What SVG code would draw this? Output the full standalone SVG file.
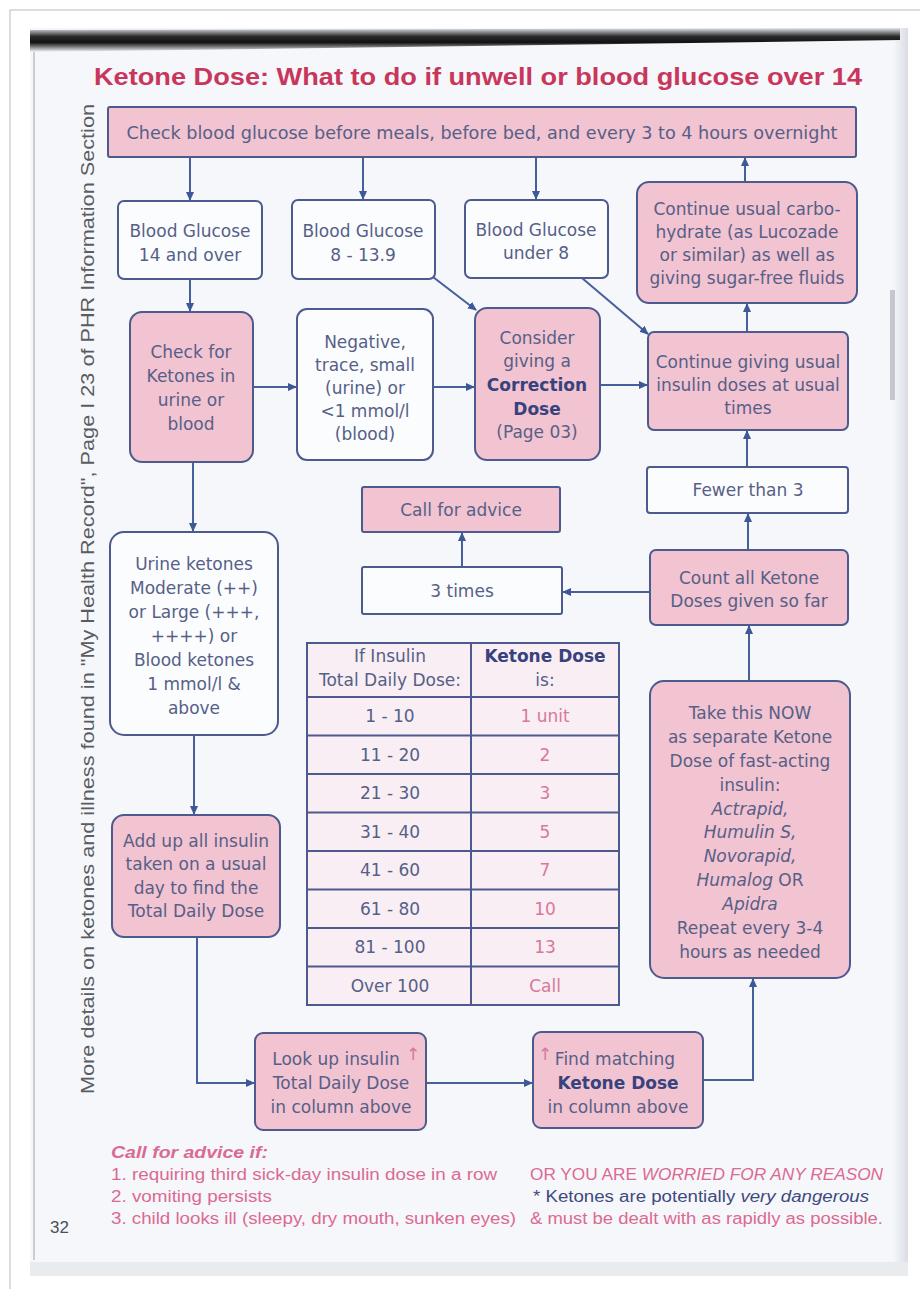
<svg xmlns="http://www.w3.org/2000/svg" width="920" height="1289" viewBox="0 0 920 1289">
<defs>
<style>
.pk{fill:#f2c3d1;stroke:#4c5a8e;stroke-width:2}
.wt{fill:#fbfcfe;stroke:#4c5a8e;stroke-width:2}
.t{font-family:"DejaVu Sans",Verdana,sans-serif;font-size:17px;fill:#566087;text-anchor:middle}
.b{font-weight:bold;fill:#38427c}
.i{font-style:italic}
.cn{stroke:#45609a;stroke-width:2;fill:none}
.tl{stroke:#4c5a8e;stroke-width:2}
.rd{fill:#d8789b}
.ft{font-family:"Liberation Sans",Arial,sans-serif;font-size:16px;fill:#db6a92}
</style>
<marker id="ah" markerUnits="userSpaceOnUse" markerWidth="9" markerHeight="8" refX="8" refY="4" orient="auto">
<path d="M0,0 L9,4 L0,8 z" fill="#3d5897"/>
</marker>
<linearGradient id="shadow" x1="0" y1="0" x2="0" y2="1">
<stop offset="0" stop-color="#e4e9ef"/>
<stop offset="0.35" stop-color="#2a2a2a"/>
<stop offset="0.6" stop-color="#111"/>
<stop offset="1" stop-color="#f5f7fa"/>
</linearGradient>
<linearGradient id="redge" x1="0" y1="0" x2="1" y2="0">
<stop offset="0" stop-color="#f5f7fa"/>
<stop offset="1" stop-color="#d9dde2"/>
</linearGradient>
</defs>

<!-- page / photo background -->
<rect x="0" y="0" width="920" height="1289" fill="#ffffff"/>
<path d="M10,1289 V10 H920" fill="none" stroke="#cfd2d6" stroke-width="1.5"/>
<rect x="30" y="28" width="878" height="1234" fill="#f5f7fa"/>
<rect x="893" y="28" width="15" height="1234" fill="url(#redge)"/>
<rect x="30" y="1262" width="878" height="14" fill="#e9ecef"/>
<line x1="34" y1="40" x2="34" y2="1260" stroke="#c9cdd3" stroke-width="2"/>
<polygon points="30,30 900,28 900,40 30,52" fill="url(#shadow)"/>
<rect x="890" y="290" width="5" height="110" fill="#c4c8ce"/>

<!-- title -->
<text x="478" y="85" font-family="Liberation Sans,Arial,sans-serif" font-size="23" font-weight="bold" fill="#c9365c" text-anchor="middle" textLength="768" lengthAdjust="spacingAndGlyphs">Ketone Dose: What to do if unwell or blood glucose over 14</text>

<!-- side note -->
<text transform="translate(94,1094) rotate(-90)" font-family="Liberation Sans,Arial,sans-serif" font-size="18" fill="#585c63" textLength="990" lengthAdjust="spacingAndGlyphs">More details on ketones and illness found in "My Health Record", Page I 23 of PHR Information Section</text>

<!-- connectors -->
<g id="connectors">
<line class="cn" x1="190" y1="157" x2="190" y2="200" marker-end="url(#ah)"/>
<line class="cn" x1="363" y1="157" x2="363" y2="199" marker-end="url(#ah)"/>
<line class="cn" x1="536" y1="157" x2="536" y2="199" marker-end="url(#ah)"/>
<line class="cn" x1="745" y1="182" x2="745" y2="158" marker-end="url(#ah)"/>
<line class="cn" x1="190" y1="280" x2="190" y2="311" marker-end="url(#ah)"/>
<line class="cn" x1="433" y1="277" x2="476" y2="310" marker-end="url(#ah)"/>
<line class="cn" x1="582" y1="278" x2="648" y2="334" marker-end="url(#ah)"/>
<line class="cn" x1="253" y1="387" x2="296" y2="387" marker-end="url(#ah)"/>
<line class="cn" x1="433" y1="387" x2="474" y2="387" marker-end="url(#ah)"/>
<line class="cn" x1="600" y1="385" x2="647" y2="385" marker-end="url(#ah)"/>
<line class="cn" x1="747" y1="332" x2="747" y2="304" marker-end="url(#ah)"/>
<line class="cn" x1="747" y1="467" x2="747" y2="431" marker-end="url(#ah)"/>
<line class="cn" x1="748" y1="550" x2="748" y2="514" marker-end="url(#ah)"/>
<line class="cn" x1="650" y1="592" x2="563" y2="592" marker-end="url(#ah)"/>
<line class="cn" x1="462" y1="567" x2="462" y2="533" marker-end="url(#ah)"/>
<line class="cn" x1="193" y1="462" x2="193" y2="531" marker-end="url(#ah)"/>
<line class="cn" x1="194" y1="735" x2="194" y2="814" marker-end="url(#ah)"/>
<polyline class="cn" points="197,937 197,1083 254,1083" marker-end="url(#ah)"/>
<line class="cn" x1="426" y1="1083" x2="532" y2="1083" marker-end="url(#ah)"/>
<polyline class="cn" points="703,1080 753,1080 753,979" marker-end="url(#ah)"/>
<line class="cn" x1="749" y1="681" x2="749" y2="626" marker-end="url(#ah)"/>
</g>

<!-- nodes -->
<g id="n-top">
<rect class="pk" x="108" y="107" width="748" height="50" rx="2"/>
<text class="t" x="482" y="139" font-size="16" textLength="711" lengthAdjust="spacingAndGlyphs">Check blood glucose before meals, before bed, and every 3 to 4 hours overnight</text>
</g>

<g id="n-bg14">
<rect class="wt" x="118" y="201" width="144" height="78" rx="6"/>
<text class="t"><tspan x="190" y="237">Blood Glucose</tspan><tspan x="190" y="261">14 and over</tspan></text>
</g>

<g id="n-bg8">
<rect class="wt" x="292" y="200" width="143" height="79" rx="6"/>
<text class="t"><tspan x="363" y="237">Blood Glucose</tspan><tspan x="363" y="261">8 - 13.9</tspan></text>
</g>

<g id="n-bg-under8">
<rect class="wt" x="465" y="200" width="143" height="78" rx="6"/>
<text class="t"><tspan x="536" y="236">Blood Glucose</tspan><tspan x="536" y="259">under 8</tspan></text>
</g>

<g id="n-carbo">
<rect class="pk" x="637" y="182" width="220" height="121" rx="12"/>
<text class="t"><tspan x="747" y="215">Continue usual carbo-</tspan><tspan x="747" y="238">hydrate (as Lucozade</tspan><tspan x="747" y="261">or similar) as well as</tspan><tspan x="747" y="284">giving sugar-free fluids</tspan></text>
</g>

<g id="n-check">
<rect class="pk" x="130" y="312" width="123" height="150" rx="12"/>
<text class="t"><tspan x="191" y="358">Check for</tspan><tspan x="191" y="382">Ketones in</tspan><tspan x="191" y="406">urine or</tspan><tspan x="191" y="430">blood</tspan></text>
</g>

<g id="n-negative">
<rect class="wt" x="297" y="309" width="136" height="151" rx="10"/>
<text class="t"><tspan x="365" y="348">Negative,</tspan><tspan x="365" y="371">trace, small</tspan><tspan x="365" y="394">(urine) or</tspan><tspan x="365" y="417">&lt;1 mmol/l</tspan><tspan x="365" y="440">(blood)</tspan></text>
</g>

<g id="n-consider">
<rect class="pk" x="475" y="308" width="125" height="152" rx="12"/>
<text class="t"><tspan x="537" y="344">Consider</tspan><tspan x="537" y="367">giving a</tspan><tspan class="b" x="537" y="391">Correction</tspan><tspan class="b" x="537" y="415">Dose</tspan><tspan x="537" y="438">(Page 03)</tspan></text>
</g>

<g id="n-continue">
<rect class="pk" x="648" y="332" width="200" height="98" rx="6"/>
<text class="t"><tspan x="748" y="368">Continue giving usual</tspan><tspan x="748" y="391">insulin doses at usual</tspan><tspan x="748" y="414">times</tspan></text>
</g>

<g id="n-call">
<rect class="pk" x="362" y="487" width="198" height="45" rx="2"/>
<text class="t" x="461" y="516">Call for advice</text>
</g>

<g id="n-fewer">
<rect class="wt" x="647" y="467" width="201" height="46" rx="3"/>
<text class="t" x="748" y="496">Fewer than 3</text>
</g>

<g id="n-3times">
<rect class="wt" x="362" y="567" width="200" height="47" rx="2"/>
<text class="t" x="462" y="597">3 times</text>
</g>

<g id="n-count">
<rect class="pk" x="650" y="550" width="198" height="75" rx="6"/>
<text class="t"><tspan x="749" y="584">Count all Ketone</tspan><tspan x="749" y="607">Doses given so far</tspan></text>
</g>

<g id="n-urine">
<rect class="wt" x="110" y="532" width="168" height="203" rx="14"/>
<text class="t"><tspan x="194" y="570">Urine ketones</tspan><tspan x="194" y="594">Moderate (++)</tspan><tspan x="194" y="618">or Large (+++,</tspan><tspan x="194" y="642">++++) or</tspan><tspan x="194" y="666">Blood ketones</tspan><tspan x="194" y="690">1 mmol/l &amp;</tspan><tspan x="194" y="714">above</tspan></text>
</g>

<g id="n-table">
<rect x="307" y="643" width="312" height="362" fill="#f8eef4" stroke="#4c5a8e" stroke-width="2"/>
<line class="tl" x1="471" y1="643" x2="471" y2="1005"/>
<line class="tl" x1="307" y1="697" x2="619" y2="697"/>
<line class="tl" x1="307" y1="735.5" x2="619" y2="735.5"/>
<line class="tl" x1="307" y1="774" x2="619" y2="774"/>
<line class="tl" x1="307" y1="812.5" x2="619" y2="812.5"/>
<line class="tl" x1="307" y1="851" x2="619" y2="851"/>
<line class="tl" x1="307" y1="889.5" x2="619" y2="889.5"/>
<line class="tl" x1="307" y1="928" x2="619" y2="928"/>
<line class="tl" x1="307" y1="966.5" x2="619" y2="966.5"/>
<text class="t"><tspan x="390" y="662">If Insulin</tspan><tspan x="390" y="686">Total Daily Dose:</tspan></text>
<text class="t"><tspan class="b" x="545" y="662">Ketone Dose</tspan><tspan x="545" y="686">is:</tspan></text>
<text class="t"><tspan x="390" y="722">1 - 10</tspan><tspan x="390" y="761">11 - 20</tspan><tspan x="390" y="799">21 - 30</tspan><tspan x="390" y="838">31 - 40</tspan><tspan x="390" y="876">41 - 60</tspan><tspan x="390" y="915">61 - 80</tspan><tspan x="390" y="953">81 - 100</tspan><tspan x="390" y="992">Over 100</tspan></text>
<text class="t rd"><tspan x="545" y="722">1 unit</tspan><tspan x="545" y="761">2</tspan><tspan x="545" y="799">3</tspan><tspan x="545" y="838">5</tspan><tspan x="545" y="876">7</tspan><tspan x="545" y="915">10</tspan><tspan x="545" y="953">13</tspan><tspan x="545" y="992">Call</tspan></text>
</g>

<g id="n-take">
<rect class="pk" x="650" y="681" width="200" height="297" rx="14"/>
<text class="t"><tspan x="750" y="719">Take this NOW</tspan><tspan x="750" y="743">as separate Ketone</tspan><tspan x="750" y="767">Dose of fast-acting</tspan><tspan x="750" y="791">insulin:</tspan><tspan class="i" x="750" y="815">Actrapid,</tspan><tspan class="i" x="750" y="838">Humulin S,</tspan><tspan class="i" x="750" y="862">Novorapid,</tspan><tspan x="750" y="886"><tspan class="i">Humalog</tspan> OR</tspan><tspan class="i" x="750" y="910">Apidra</tspan><tspan x="750" y="934">Repeat every 3-4</tspan><tspan x="750" y="958">hours as needed</tspan></text>
</g>

<g id="n-addup">
<rect class="pk" x="112" y="815" width="168" height="122" rx="12"/>
<text class="t"><tspan x="196" y="847">Add up all insulin</tspan><tspan x="196" y="870">taken on a usual</tspan><tspan x="196" y="894">day to find the</tspan><tspan x="196" y="917">Total Daily Dose</tspan></text>
</g>

<g id="n-lookup">
<rect class="pk" x="255" y="1033" width="171" height="97" rx="8"/>
<text class="t"><tspan x="336" y="1065">Look up insulin</tspan><tspan x="341" y="1089">Total Daily Dose</tspan><tspan x="341" y="1113">in column above</tspan></text>
<text class="t rd" x="413" y="1060" font-size="13">↑</text>
</g>

<g id="n-find">
<rect class="pk" x="533" y="1032" width="170" height="96" rx="8"/>
<text class="t"><tspan x="615" y="1065">Find matching</tspan><tspan class="b" x="618" y="1089">Ketone Dose</tspan><tspan x="618" y="1113">in column above</tspan></text>
<text class="t rd" x="545" y="1060" font-size="13">↑</text>
</g>

<!-- footer notes -->
<g id="footer">
<text class="ft" x="111" y="1158" font-weight="bold" font-style="italic" textLength="157" lengthAdjust="spacingAndGlyphs">Call for advice if:</text>
<text class="ft" x="111" y="1180" textLength="386" lengthAdjust="spacingAndGlyphs">1. requiring third sick-day insulin dose in a row</text>
<text class="ft" x="111" y="1202" textLength="161" lengthAdjust="spacingAndGlyphs">2. vomiting persists</text>
<text class="ft" x="111" y="1224" textLength="405" lengthAdjust="spacingAndGlyphs">3. child looks ill (sleepy, dry mouth, sunken eyes)</text>
<text class="ft" x="530" y="1180" textLength="353" lengthAdjust="spacingAndGlyphs">OR YOU ARE <tspan font-style="italic">WORRIED FOR ANY REASON</tspan></text>
<text class="ft" x="533" y="1202" fill="#3f4a7e" style="fill:#3f4a7e" textLength="336" lengthAdjust="spacingAndGlyphs">* Ketones are potentially <tspan font-style="italic">very dangerous</tspan></text>
<text class="ft" x="530" y="1224" textLength="353" lengthAdjust="spacingAndGlyphs">&amp; must be dealt with as rapidly as possible.</text>
<text x="50" y="1233" font-family="Liberation Sans,Arial,sans-serif" font-size="17" fill="#4a4f5a">32</text>
</g>
</svg>
